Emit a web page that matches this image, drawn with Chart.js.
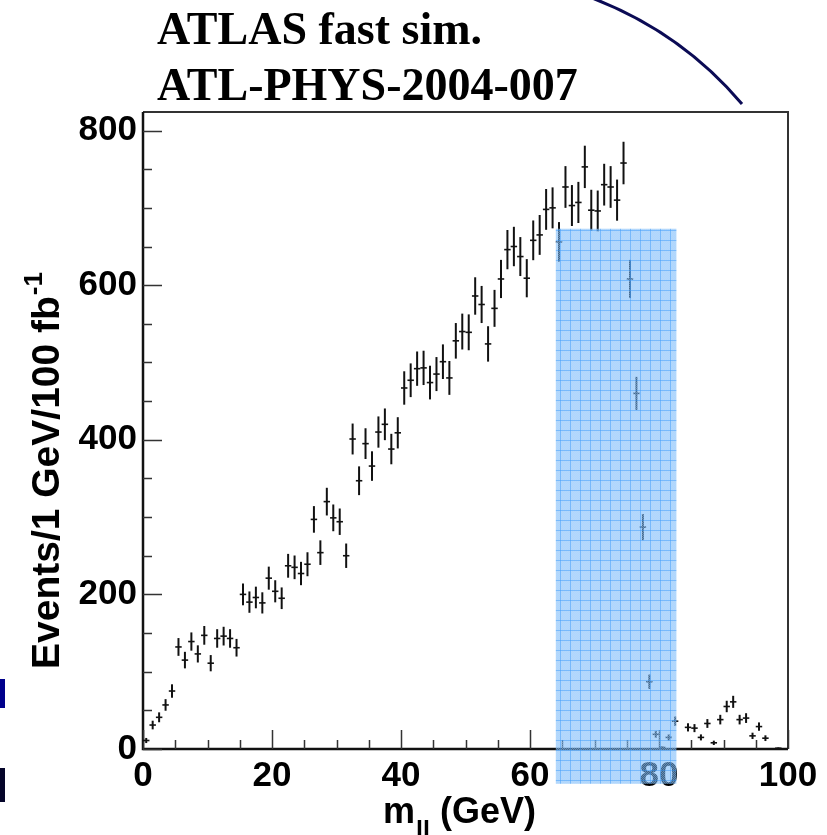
<!DOCTYPE html>
<html>
<head>
<meta charset="utf-8">
<title>ATLAS fast sim. - m_ll</title>
<script src="https://cdn.jsdelivr.net/npm/chart.js@4.4.0/dist/chart.umd.min.js"></script>
<style>
  html, body { margin: 0; padding: 0; background: #fff; }
  #contenedor { width: 827px; height: 835px; }
</style>
</head>
<body>
<div id="contenedor"><canvas id="grafico" width="827" height="835"></canvas></div>
<script>
// centros de bin (bins de 1 GeV)
var centros = [
	0.5, 1.5, 2.5, 3.5, 4.5, 5.5, 6.5, 7.5, 8.5, 9.5,
	10.5, 11.5, 12.5, 13.5, 14.5, 15.5, 16.5, 17.5, 18.5, 19.5,
	20.5, 21.5, 22.5, 23.5, 24.5, 25.5, 26.5, 27.5, 28.5, 29.5,
	30.5, 31.5, 32.5, 33.5, 34.5, 35.5, 36.5, 37.5, 38.5, 39.5,
	40.5, 41.5, 42.5, 43.5, 44.5, 45.5, 46.5, 47.5, 48.5, 49.5,
	50.5, 51.5, 52.5, 53.5, 54.5, 55.5, 56.5, 57.5, 58.5, 59.5,
	60.5, 61.5, 62.5, 63.5, 64.5, 65.5, 66.5, 67.5, 68.5, 69.5,
	70.5, 71.5, 72.5, 73.5, 74.5, 75.5, 76.5, 77.5, 78.5, 79.5,
	80.5, 81.5, 82.5, 83.5, 84.5, 85.5, 86.5, 87.5, 88.5, 89.5,
	90.5, 91.5, 92.5, 93.5, 94.5, 95.5, 96.5, 97.5, 98.5, 99.5
];

// eventos por bin (Events/1 GeV/100 fb-1)
var eventos = [
	11, 31, 41, 57, 75, 132, 115, 139, 123, 147,
	111, 143, 146, 143, 131, 200, 190, 196, 189, 221,
	204, 195, 237, 235, 227, 239, 297, 254, 320, 299,
	294, 250, 401, 347, 395, 366, 410, 420, 388, 409,
	467, 477, 492, 493, 474, 485, 501, 480, 528, 540,
	539, 586, 575, 524, 570, 608, 646, 650, 637, 609,
	658, 665, 698, 700, 656, 727, 703, 707, 753, 697,
	696, 730, 727, 710, 758, 608, 460, 287, 87, 19,
	2, 15, 36, 0, 28, 27, 15, 33, 8, 38,
	55, 61, 38, 40, 17, 29, 14, 0, 1, 0
];

// error de cada bin
var errores = [
	3.3, 5.6, 6.4, 7.5, 8.7, 11.5, 10.7, 11.8, 11.1, 12.1,
	10.5, 12.0, 12.1, 12.0, 11.4, 14.1, 13.8, 14.0, 13.7, 14.9,
	14.3, 14.0, 15.4, 15.3, 15.1, 15.5, 17.2, 15.9, 17.9, 17.3,
	17.1, 15.8, 20.0, 18.6, 19.9, 19.1, 20.2, 20.5, 19.7, 20.2,
	21.6, 21.8, 22.2, 22.2, 21.8, 22.0, 22.4, 21.9, 23.0, 23.2,
	23.2, 24.2, 24.0, 22.9, 23.9, 24.7, 25.4, 25.5, 25.2, 24.7,
	25.7, 25.8, 26.4, 26.5, 25.6, 27.0, 26.5, 26.6, 27.4, 26.4,
	26.4, 27.0, 27.0, 26.6, 27.5, 24.7, 21.4, 16.9, 9.3, 4.4,
	1.4, 3.9, 6.0, 0, 5.3, 5.2, 3.9, 5.7, 2.8, 6.2,
	7.4, 7.8, 6.2, 6.3, 4.1, 5.4, 3.7, 0, 1.0, 0
];

var ticksX = [0, 20, 40, 60, 80, 100];
var ticksY = [0, 200, 400, 600, 800];

var anchoBin = 1;
var menorX = 5, menorY = 50;

// zona marcada en azul (coordenadas de los ejes)
var banda = { x0: 64.0, x1: 82.7, y0: -45, y1: 673 };

var fuenteEje = '"Liberation Sans", Arial, sans-serif';
var fuenteTitulo = '"Liberation Serif", "Times New Roman", serif';

var puntos = [];
for (var i = 0; i < centros.length; i++) {
	puntos.push({ x: centros[i], y: eventos[i] });
}

// patron de la banda azul
function crearPatron(ctx) {
	var c = document.createElement('canvas');
	c.width = 10; c.height = 10;
	var t = c.getContext('2d');
	t.fillStyle = 'rgba(110,180,250,0.55)';
	t.fillRect(0, 0, 10, 10);
	for (var a = 1; a < 10; a++) {
		for (var b = 1; b < 10; b++) {
			if ((a + b) % 2 == 0) {
				t.fillStyle = 'rgba(190,222,252,0.35)';
				t.fillRect(a, b, 1, 1);
			}
		}
	}
	t.fillStyle = 'rgba(63,157,252,0.5)';
	t.fillRect(0, 0, 10, 1);
	t.fillRect(0, 0, 1, 10);
	return ctx.createPattern(c, 'repeat');
}

var fondo = {
	id: 'fondo',
	beforeDraw: function (chart) {
		var ctx = chart.ctx;
		ctx.save();
		ctx.fillStyle = '#fff';
		ctx.fillRect(0, 0, chart.width, chart.height);
		ctx.restore();
	}
};

var ejes = {
	id: 'ejes',
	beforeDatasetsDraw: function (chart) {
		var ctx = chart.ctx, a = chart.chartArea;
		var sx = chart.scales.x, sy = chart.scales.y;
		ctx.save();
		// marco
		ctx.strokeStyle = '#333';
		ctx.lineWidth = 2;
		ctx.beginPath();
		ctx.moveTo(a.left, a.top); ctx.lineTo(a.right, a.top); ctx.lineTo(a.right, a.bottom);
		ctx.stroke();
		ctx.strokeStyle = '#111';
		ctx.lineWidth = 2.5;
		ctx.beginPath();
		ctx.moveTo(a.left, a.top); ctx.lineTo(a.left, a.bottom); ctx.lineTo(a.right, a.bottom);
		ctx.stroke();
		// marcas hacia dentro
		ctx.strokeStyle = '#333';
		ctx.lineWidth = 1.5;
		ctx.beginPath();
		for (var v = 0; v <= sy.max; v += menorY) {
			var py = Math.round(sy.getPixelForValue(v)) + 0.5;
			var l = (v % 200 == 0) ? 19 : 9;
			ctx.moveTo(a.left, py); ctx.lineTo(a.left + l, py);
		}
		for (var w = 0; w <= sx.max; w += menorX) {
			var px = Math.round(sx.getPixelForValue(w)) + 0.5;
			var m = (w % 20 == 0) ? 19 : 9;
			ctx.moveTo(px, a.bottom); ctx.lineTo(px, a.bottom - m);
		}
		ctx.stroke();
		ctx.restore();
	}
};

var barras = {
	id: 'barras',
	afterDatasetsDraw: function (chart) {
		var ctx = chart.ctx, sx = chart.scales.x, sy = chart.scales.y;
		ctx.save();
		ctx.strokeStyle = '#111';
		for (var i = 0; i < centros.length; i++) {
			if (!eventos[i]) continue;
			var px = sx.getPixelForValue(centros[i]);
			var py = sy.getPixelForValue(eventos[i]);
			var y1 = sy.getPixelForValue(eventos[i] - errores[i]);
			var y2 = sy.getPixelForValue(eventos[i] + errores[i]);
			var xa = sx.getPixelForValue(centros[i] - anchoBin / 2);
			var xb = sx.getPixelForValue(centros[i] + anchoBin / 2);
			ctx.lineWidth = 2;
			ctx.beginPath(); ctx.moveTo(px, y1); ctx.lineTo(px, y2); ctx.stroke();
			ctx.lineWidth = 1.6;
			ctx.beginPath(); ctx.moveTo(xa, py); ctx.lineTo(xb, py); ctx.stroke();
		}
		ctx.restore();
	}
};

var textos = {
	id: 'textos',
	afterDraw: function (chart) {
		var ctx = chart.ctx, sx = chart.scales.x, sy = chart.scales.y;
		ctx.save();

		// arco azul de la diapositiva
		ctx.strokeStyle = '#0b0b55';
		ctx.lineWidth = 3;
		ctx.beginPath();
		ctx.moveTo(592, -2);
		ctx.quadraticCurveTo(681, 32, 742, 104);
		ctx.stroke();
		ctx.fillStyle = '#00008c';
		ctx.fillRect(0, 679, 5, 29);
		ctx.fillStyle = '#05052a';
		ctx.fillRect(0, 768, 5, 34);

		// titulo
		ctx.fillStyle = '#000';
		ctx.textAlign = 'left';
		ctx.textBaseline = 'alphabetic';
		ctx.font = 'bold 46px ' + fuenteTitulo;
		ctx.fillText('ATLAS fast sim.', 157, 44);
		ctx.fillText('ATL-PHYS-2004-007', 157, 100);

		// titulo eje x
		ctx.font = 'bold 36px ' + fuenteEje;
		ctx.fillText('m', 383, 823);
		var wm = ctx.measureText('m').width;
		ctx.font = 'bold 25px ' + fuenteEje;
		ctx.fillText('ll', 384 + wm, 839);
		var wl = ctx.measureText('ll').width;
		ctx.font = 'bold 36px ' + fuenteEje;
		ctx.fillText(' (GeV)', 384 + wm + wl, 823);

		// titulo eje y
		ctx.translate(59, 669);
		ctx.rotate(-Math.PI / 2);
		ctx.font = 'bold 39px ' + fuenteEje;
		ctx.fillText('Events/1 GeV/100 fb', 0, 0);
		var wy = ctx.measureText('Events/1 GeV/100 fb').width;
		ctx.font = 'bold 26px ' + fuenteEje;
		ctx.fillText('-1', wy + 1, -17);
		ctx.restore();

		// banda azul encima de todo
		ctx.save();
		var bx0 = sx.getPixelForValue(banda.x0), bx1 = sx.getPixelForValue(banda.x1);
		var by0 = sy.getPixelForValue(banda.y0), by1 = sy.getPixelForValue(banda.y1);
		ctx.fillStyle = crearPatron(ctx);
		ctx.fillRect(bx0, by1, bx1 - bx0, by0 - by1);
		ctx.restore();
	}
};

var ctx = document.getElementById('grafico');
var grafico = new Chart(ctx, {
	type: 'scatter',
	data: {
		datasets: [{
			data: puntos,
			pointRadius: 0,
			pointHoverRadius: 0,
			showLine: false
		}]
	},
	options: {
		responsive: false,
		animation: false,
		devicePixelRatio: 1,
		layout: { padding: { left: 0, right: 39, top: 112, bottom: 0 } },
		plugins: { legend: { display: false }, tooltip: { enabled: false } },
		scales: {
			x: {
				type: 'linear',
				min: 0,
				max: 100,
				grid: { display: false, drawTicks: false },
				border: { display: false },
				afterFit: function (s) { s.height = 86; },
				afterBuildTicks: function (s) { s.ticks = ticksX.map(function (v) { return { value: v }; }); },
				ticks: {
					color: '#000',
					padding: 6,
					maxRotation: 0,
					autoSkip: false,
					font: { family: fuenteEje, size: 35, weight: 'bold' }
				}
			},
			y: {
				type: 'linear',
				min: 0,
				max: 824,
				grid: { display: false, drawTicks: false },
				border: { display: false },
				afterFit: function (s) { s.width = 143; },
				afterBuildTicks: function (s) { s.ticks = ticksY.map(function (v) { return { value: v }; }); },
				ticks: {
					color: '#000',
					padding: 6,
					font: { family: fuenteEje, size: 35, weight: 'bold' }
				}
			}
		}
	},
	plugins: [fondo, ejes, barras, textos]
});
</script>
</body>
</html>
